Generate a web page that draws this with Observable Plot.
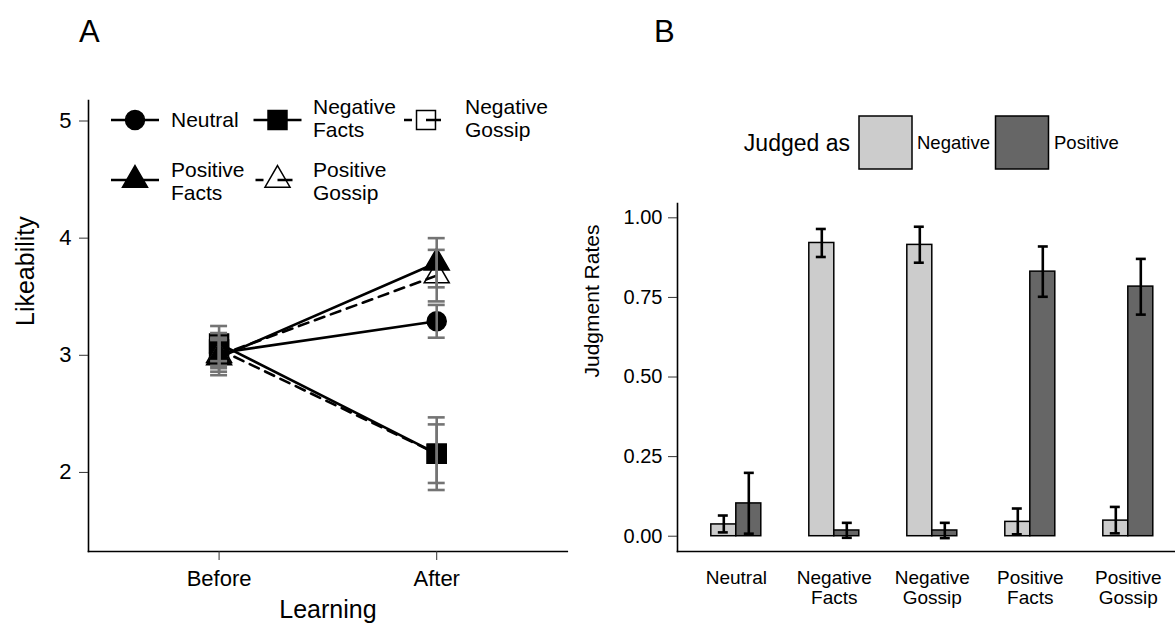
<!DOCTYPE html>
<html><head><meta charset="utf-8">
<script src="https://cdn.jsdelivr.net/npm/d3@7"></script>
<script src="https://cdn.jsdelivr.net/npm/@observablehq/plot@0.6"></script>
<style>
body{margin:0;background:#fff;overflow:hidden}
#root{position:relative;width:1175px;height:631px;overflow:hidden;background:#fff;font-family:"Liberation Sans",Arial,sans-serif}
#root > *{position:absolute}
</style></head><body><div id="root"></div>
<script>
// ---------- Panel A data ----------
const phases = ["Before", "After"];
const conditions = ["Neutral", "Negative Facts", "Negative Gossip", "Positive Facts", "Positive Gossip"];
const likeBefore    = [3.02, 3.10, 3.05, 2.98, 3.00];
const likeBeforeErr = [0.13, 0.15, 0.14, 0.15, 0.14];
const likeAfter     = [3.29, 2.16, 2.16, 3.79, 3.68];
const likeAfterErr  = [0.14, 0.31, 0.25, 0.21, 0.22];
const yTicksA = [2, 3, 4, 5];

// ---------- Panel B data ----------
const categories = ["Neutral", "Negative Facts", "Negative Gossip", "Positive Facts", "Positive Gossip"];
const judged = ["Negative", "Positive"];
const rateNegative = [0.037, 0.921, 0.915, 0.045, 0.049];
const rateNegLo    = [0.012, 0.877, 0.859, 0.006, 0.009];
const rateNegHi    = [0.065, 0.965, 0.972, 0.087, 0.092];
const ratePositive = [0.103, 0.018, 0.018, 0.831, 0.784];
const ratePosLo    = [0.008, -0.005, -0.006, 0.752, 0.696];
const ratePosHi    = [0.199, 0.042, 0.042, 0.910, 0.871];
const yTicksB = [0, 0.25, 0.5, 0.75, 1];

const FONT = "'Liberation Sans', Arial, Helvetica, sans-serif";
const root = document.getElementById("root");

// ---------- styles (not data) ----------
const styleA = {
  "Neutral":         {symbol: "circle",   r: 9.5,  fill: "black", dash: null},
  "Negative Facts":  {symbol: "square",   r: 10.7, fill: "black", dash: null},
  "Negative Gossip": {symbol: "square",   r: 10.7, fill: "white", dash: "10,7"},
  "Positive Facts":  {symbol: "triangle", r: 9.3,  fill: "black", dash: null},
  "Positive Gossip": {symbol: "triangle", r: 9.3,  fill: "white", dash: "10,7"}
};
const drawOrder = ["Negative Gossip", "Negative Facts", "Neutral", "Positive Gossip", "Positive Facts"];

const rowsA = [];
conditions.forEach((c, i) => {
  rowsA.push({cond: c, phase: phases[0], v: likeBefore[i], lo: likeBefore[i] - likeBeforeErr[i], hi: likeBefore[i] + likeBeforeErr[i]});
  rowsA.push({cond: c, phase: phases[1], v: likeAfter[i], lo: likeAfter[i] - likeAfterErr[i], hi: likeAfter[i] + likeAfterErr[i]});
});

const marksA = [];
for (const c of drawOrder) {
  const s = styleA[c];
  marksA.push(Plot.dot(rowsA.filter(d => d.cond === c), {x: "phase", y: "v", symbol: () => s.symbol, r: s.r, fill: s.fill, stroke: "black", strokeWidth: 1.5}));
}
for (const c of drawOrder) {
  const s = styleA[c];
  marksA.push(Plot.line(rowsA.filter(d => d.cond === c), {x: "phase", y: "v", stroke: "black", strokeWidth: 2.6, strokeDasharray: s.dash}));
}
const errColor = "#747474";
marksA.push(
  Plot.ruleX(rowsA, {x: "phase", y1: "lo", y2: "hi", stroke: errColor, strokeWidth: 2.6}),
  Plot.tickY(rowsA, {x: "phase", y: "lo", stroke: errColor, strokeWidth: 2.6}),
  Plot.tickY(rowsA, {x: "phase", y: "hi", stroke: errColor, strokeWidth: 2.6}),
  Plot.frame({anchor: "left", stroke: "black", strokeWidth: 1.6}),
  Plot.frame({anchor: "bottom", stroke: "black", strokeWidth: 1.6}),
  Plot.axisY({ticks: yTicksA, tickFormat: d3.format("d"), tickSize: 9, tickPadding: 8, fontSize: 22, stroke: "#333", label: null}),
  Plot.axisX({tickSize: 9, tickPadding: 10, fontSize: 22, stroke: "#333", label: null}),
  Plot.text(["Likeability"], {frameAnchor: "left", rotate: -90, dx: -63, fontSize: 25}),
  Plot.text(["Learning"], {frameAnchor: "bottom", dy: 66, fontSize: 25})
);

const plotA = Plot.plot({
  width: 590, height: 631,
  marginLeft: 88, marginRight: 23.2, marginTop: 100, marginBottom: 80,
  style: {fontFamily: FONT, fontSize: "20px", color: "black", background: "transparent", overflow: "visible"},
  x: {type: "band", domain: phases, paddingInner: 0.922, paddingOuter: 0.561, round: false, axis: null},
  y: {domain: [1.325, 5.175], axis: null},
  symbol: {type: "identity"},
  marks: marksA
});
plotA.style.left = "0px"; plotA.style.top = "0px";
root.appendChild(plotA);

// ---------- Panel B ----------
const rowsB = [];
categories.forEach((c, i) => {
  rowsB.push({cat: c, judged: judged[0], v: rateNegative[i], lo: rateNegLo[i], hi: rateNegHi[i]});
  rowsB.push({cat: c, judged: judged[1], v: ratePositive[i], lo: ratePosLo[i], hi: ratePosHi[i]});
});
const negRows = rowsB.filter(d => d.judged === judged[0]);
const posRows = rowsB.filter(d => d.judged === judged[1]);
const fillB = {Negative: "#cccccc", Positive: "#666666"};

const plotB = Plot.plot({
  width: 600, height: 631,
  marginLeft: 87, marginRight: 3.4, marginTop: 203, marginBottom: 80,
  style: {fontFamily: FONT, fontSize: "18px", color: "black", background: "transparent", overflow: "visible"},
  x: {type: "band", domain: categories, paddingInner: 0.49, paddingOuter: 0.345, round: false, axis: null},
  y: {domain: [-0.048, 1.045], axis: null},
  marks: [
    Plot.barY(negRows, {x: "cat", y: "v", fill: fillB.Negative, stroke: "black", strokeWidth: 1.5, insetRight: 25}),
    Plot.barY(posRows, {x: "cat", y: "v", fill: fillB.Positive, stroke: "black", strokeWidth: 1.5, insetLeft: 25}),
    Plot.ruleX(negRows, {x: "cat", y1: "lo", y2: "hi", dx: -12.5, stroke: "black", strokeWidth: 2.6}),
    Plot.ruleX(posRows, {x: "cat", y1: "lo", y2: "hi", dx: 12.5, stroke: "black", strokeWidth: 2.6}),
    Plot.tickY(negRows, {x: "cat", y: "lo", insetLeft: 7, insetRight: 33, stroke: "black", strokeWidth: 2.6}),
    Plot.tickY(negRows, {x: "cat", y: "hi", insetLeft: 7, insetRight: 33, stroke: "black", strokeWidth: 2.6}),
    Plot.tickY(posRows, {x: "cat", y: "lo", insetLeft: 33, insetRight: 7, stroke: "black", strokeWidth: 2.6}),
    Plot.tickY(posRows, {x: "cat", y: "hi", insetLeft: 33, insetRight: 7, stroke: "black", strokeWidth: 2.6}),
    Plot.frame({anchor: "left", stroke: "black", strokeWidth: 1.6}),
    Plot.frame({anchor: "bottom", stroke: "black", strokeWidth: 1.6}),
    Plot.axisY({ticks: yTicksB, tickFormat: d3.format(".2f"), tickSize: 9, tickPadding: 6, fontSize: 20, stroke: "#333", label: null}),
    Plot.axisX({tickSize: 0, tickPadding: 18, fontSize: 19, lineHeight: 1.07, tickFormat: d => d.replace(" ", "\n"), label: null}),
    Plot.text(["Judgment Rates"], {frameAnchor: "left", rotate: -90, dx: -85, fontSize: 21})
  ]
});
plotB.style.left = "590px"; plotB.style.top = "0px";
root.appendChild(plotB);

// ---------- Legends and panel letters (overlay) ----------
const ov = d3.select(root).append("svg")
  .attr("width", 1175).attr("height", 631)
  .style("left", "0px").style("top", "0px").style("pointer-events", "none")
  .style("font-family", FONT);

ov.append("text").attr("x", 79).attr("y", 42).attr("font-size", 31).text("A");
ov.append("text").attr("x", 654).attr("y", 42).attr("font-size", 31).text("B");

const legendA = [
  {cond: "Neutral",         kx: 135,   ky: 120, lx: 171, ly: 120, lines: ["Neutral"]},
  {cond: "Negative Facts",  kx: 277.5, ky: 120, lx: 313, ly: 118, lines: ["Negative", "Facts"]},
  {cond: "Negative Gossip", kx: 426,   ky: 120, lx: 465, ly: 118, lines: ["Negative", "Gossip"]},
  {cond: "Positive Facts",  kx: 135,   ky: 180, lx: 171, ly: 181, lines: ["Positive", "Facts"]},
  {cond: "Positive Gossip", kx: 277.5, ky: 180, lx: 313, ly: 181, lines: ["Positive", "Gossip"]}
];
const symType = {circle: d3.symbolCircle, square: d3.symbolSquare, triangle: d3.symbolTriangle};
for (const it of legendA) {
  const s = styleA[it.cond];
  const g = ov.append("g");
  g.append("path")
    .attr("transform", `translate(${it.kx},${it.ky})`)
    .attr("d", d3.symbol(symType[s.symbol], Math.PI * s.r * s.r)())
    .attr("fill", s.fill).attr("stroke", "black").attr("stroke-width", 1.5);
  const ln = g.append("line").attr("y1", it.ky).attr("y2", it.ky)
    .attr("stroke", "black").attr("stroke-width", 2.6);
  if (s.dash) ln.attr("x1", it.kx - 22).attr("x2", it.kx + 16).attr("stroke-dasharray", "8,14,15");
  else ln.attr("x1", it.kx - 24).attr("x2", it.kx + 24);
  const lh = 22.5;
  const n = it.lines.length;
  it.lines.forEach((t, j) => {
    g.append("text").attr("x", it.lx).attr("y", it.ly + (j - (n - 1) / 2) * lh)
      .attr("dy", "0.35em").attr("font-size", 21).text(t);
  });
}

// Legend B
ov.append("text").attr("x", 850).attr("y", 143).attr("dy", "0.35em").attr("text-anchor", "end").attr("font-size", 23).text("Judged as");
const legendB = [
  {key: "Negative", bx: 859, tx: 917},
  {key: "Positive", bx: 995.5, tx: 1054}
];
for (const it of legendB) {
  ov.append("rect").attr("x", it.bx).attr("y", 116).attr("width", 53).attr("height", 53)
    .attr("fill", fillB[it.key]).attr("stroke", "black").attr("stroke-width", 1.5);
  ov.append("text").attr("x", it.tx).attr("y", 143).attr("dy", "0.35em").attr("font-size", 18.5).text(it.key);
}
</script></body></html>
